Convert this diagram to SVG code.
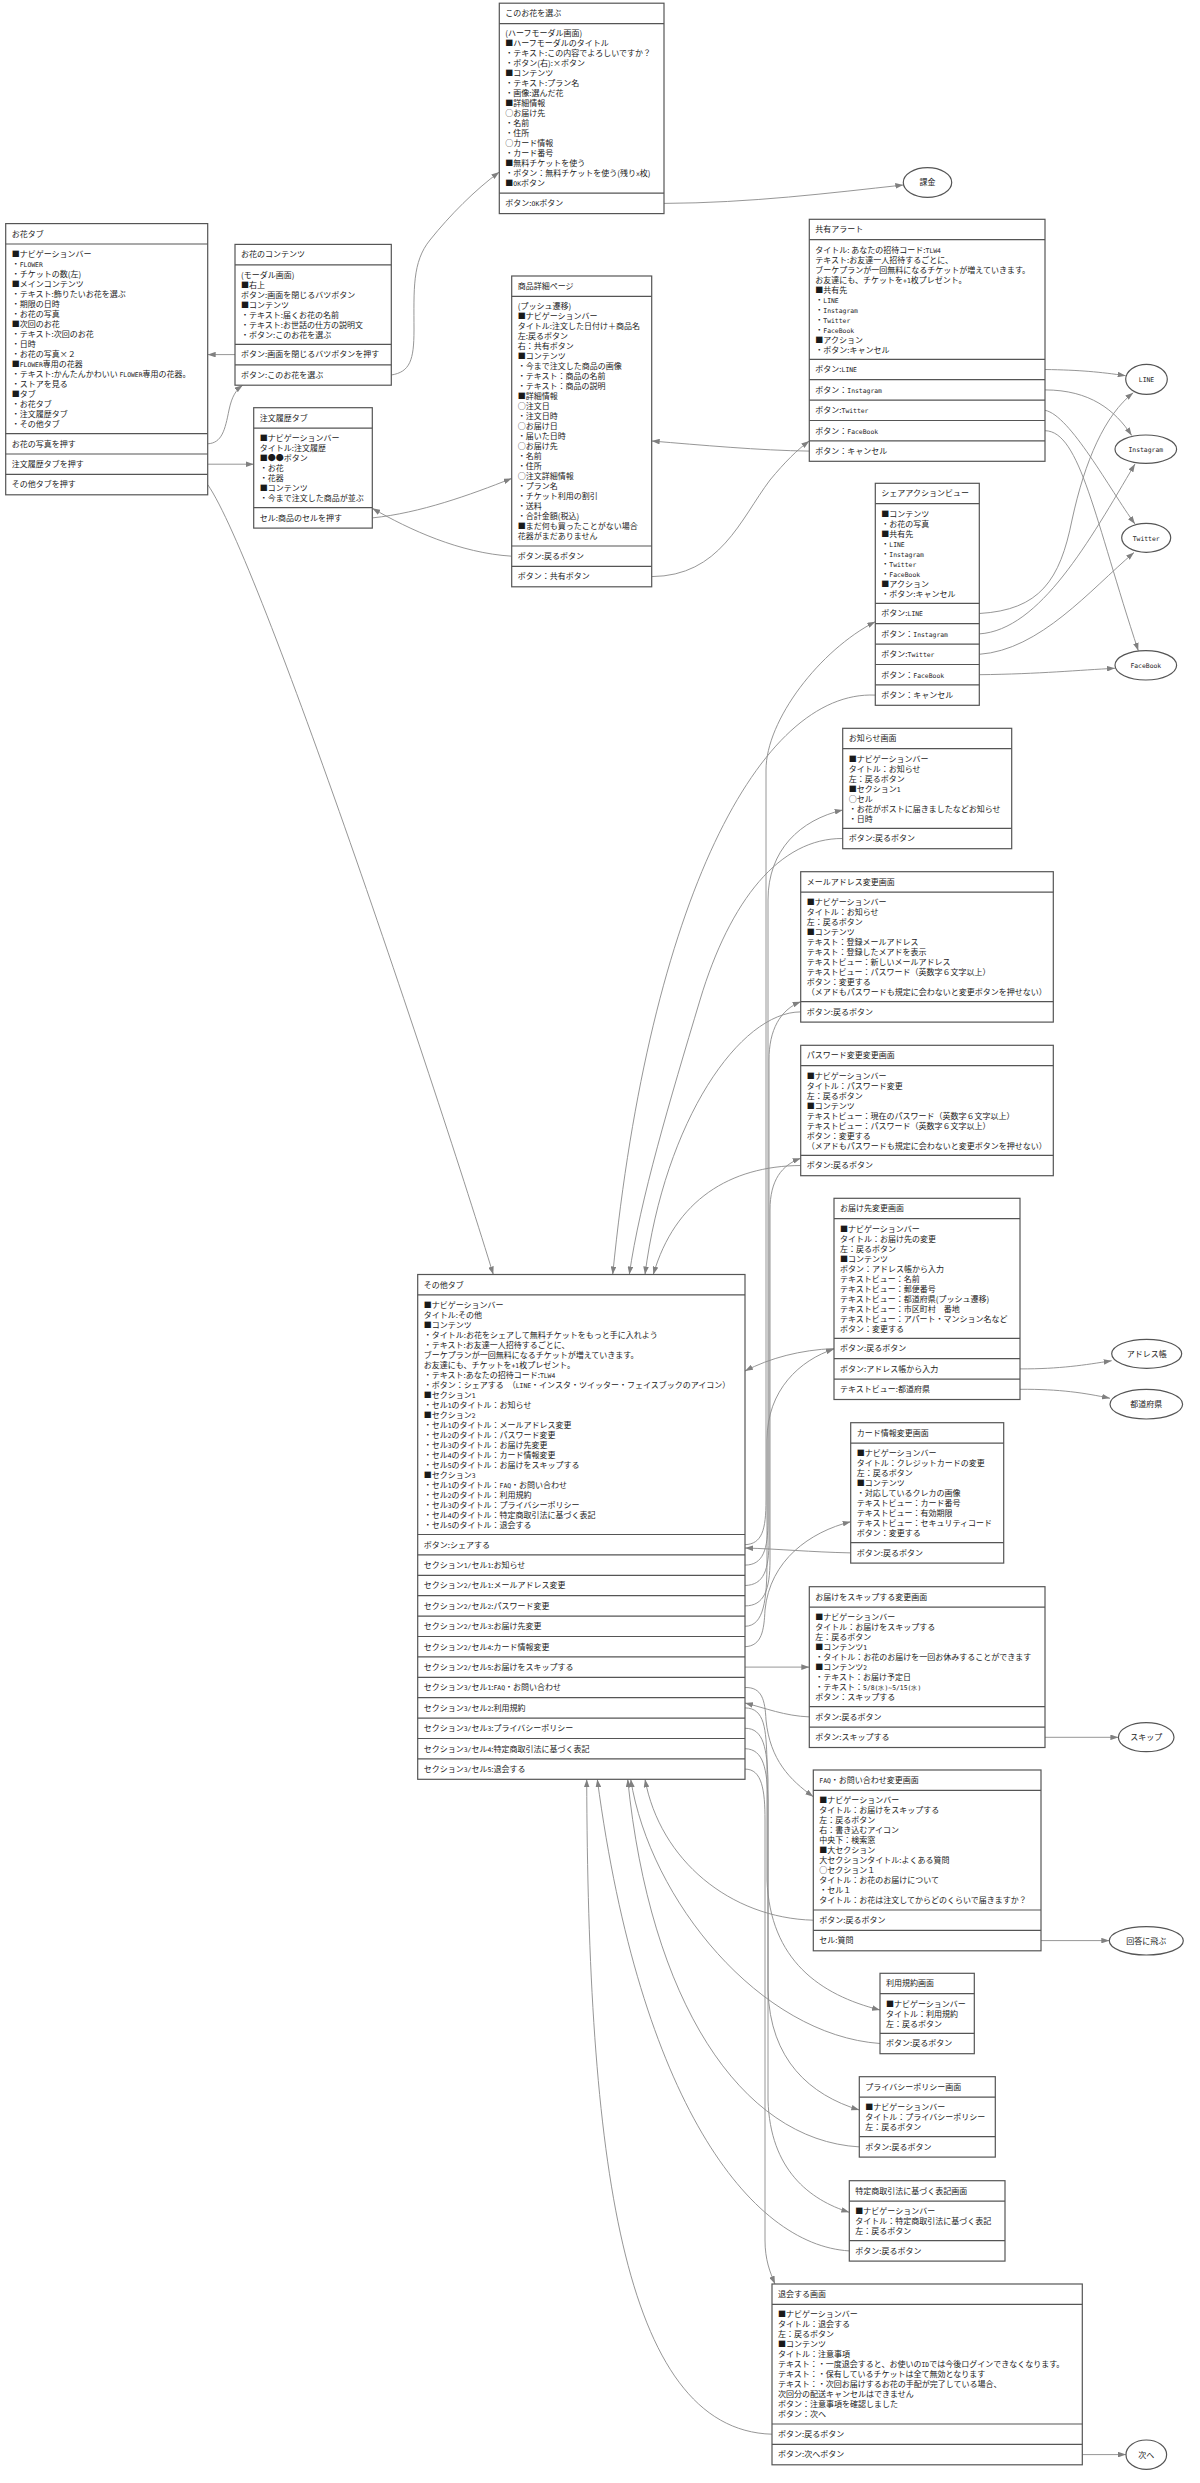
<svg xmlns="http://www.w3.org/2000/svg" width="1200" height="2483" viewBox="0 0 1200 2483">
<style>
text{font-family:"Noto Sans CJK JP","Noto Sans",sans-serif;font-size:8px;fill:#1a1a1a;transform:translateY(2.9px)}
.l{font-family:"DejaVu Sans Mono",monospace;font-size:6.4px}
.box{fill:#fff;stroke:#555;stroke-width:1.2}
.sep{fill:none;stroke:#555;stroke-width:1.2}
.e{fill:none;stroke:#8a8a8a;stroke-width:0.9;marker-end:url(#arr)}
.el{fill:#fff;stroke:#555;stroke-width:1.2}
.c{text-anchor:middle}
</style>
<defs>
<marker id="arr" viewBox="0 0 10 7" refX="10" refY="3.5" markerWidth="8" markerHeight="5.6" markerUnits="userSpaceOnUse" orient="auto"><path d="M0,0 L10,3.5 L0,7 z" fill="#808080"/></marker>
</defs>
<rect width="1200" height="2483" fill="#fff"/>
<g id="connectors">
<path class="e" d="M235,354.6 L207.7,354.6"/>
<path class="e" d="M207.7,443.8 C222,443 225,430 229,410 C232,396 236,390 242.7,385.2"/>
<path class="e" d="M207.7,464.2 L253.7,464.2"/>
<path class="e" d="M207.7,484.6 C260,560 440,1100 493.3,1274.5"/>
<path class="e" d="M391.3,375 C410,372 414,360 414,330 C414,290 412,262 430,240 C450,215 475,190 499.3,172"/>
<path class="e" d="M664,203.4 C750,203 830,193 903.3,185"/>
<path class="e" d="M372.3,517.9 C420,513 470,495 511.7,478.4"/>
<path class="e" d="M511.7,556.2 C460,553 410,530 372.3,508.3"/>
<path class="e" d="M651.7,576.6 C720,576 740,520 770,480 C785,462 797,450 809.3,440.9"/>
<path class="e" d="M809.3,451.1 C760,450.5 700,445 651.7,441"/>
<path class="e" d="M1045,369.5 C1080,370 1100,372 1125.7,375.7"/>
<path class="e" d="M1045,389.9 C1090,390 1115,410 1131.7,435.5"/>
<path class="e" d="M1045,410.3 C1070,415 1110,490 1135,524"/>
<path class="e" d="M1045,430.7 C1080,431 1095,520 1138.3,650.7"/>
<path class="e" d="M979.3,613.5 C1040,610 1060,580 1072,520 C1085,460 1105,415 1133.3,392.7"/>
<path class="e" d="M979.3,633.9 C1040,630 1090,540 1135,464"/>
<path class="e" d="M979.3,654.3 C1040,650 1090,590 1134,552.5"/>
<path class="e" d="M979.3,674.7 C1040,674 1080,670 1115,668.3"/>
<path class="e" d="M875.3,695.1 C760,690 650,900 612.7,1274.5"/>
<path class="e" d="M745,1544.7 C762,1544 766,1530 766,1500 L766,770 C766,720 820,650 875.3,621.7"/>
<path class="e" d="M842.7,838.5 C780,838 730,900 700,1000 C670,1100 640,1200 629.3,1274.5"/>
<path class="e" d="M745,1565.1 C763,1565 768,1550 768,1520 L768,900 C768,850 800,820 842.7,810"/>
<path class="e" d="M800.7,1011.9 C740,1012 665,1120 645,1274.5"/>
<path class="e" d="M745,1585.5 C764,1585 769,1570 769,1540 L769,1060 C769,1030 780,1010 800.7,1001.7"/>
<path class="e" d="M800.7,1165.5 C730,1166 675,1200 653.3,1274.5"/>
<path class="e" d="M745,1605.9 C764,1606 770,1590 770,1560 L770,1210 C770,1180 782,1165 800.7,1158.3"/>
<path class="e" d="M745,1626.3 C764,1626 767,1600 767,1560 L767,1440 C767,1390 800,1360 834,1349"/>
<path class="e" d="M834,1348.5 C800,1350 770,1358 745,1371"/>
<path class="e" d="M745,1646.7 C762,1646 764,1630 765,1610 C770,1560 810,1532 850.7,1521.7"/>
<path class="e" d="M850.7,1552.9 C810,1552 780,1549 745,1548"/>
<path class="e" d="M745,1667.1 L809.3,1667.1"/>
<path class="e" d="M809.3,1716.9 C785,1716 765,1708 745,1703"/>
<path class="e" d="M1045,1737.3 L1118.4,1737.3"/>
<path class="e" d="M745,1687.5 C762,1687 765,1700 766,1720 C770,1760 790,1780 813.3,1796.7"/>
<path class="e" d="M813.3,1920.2 C730,1918 660,1860 645,1779.3"/>
<path class="e" d="M1041,1940.6 L1109.3,1940.6"/>
<path class="e" d="M745,1707.9 C765,1708 766,1730 767,1760 L767,1880 C770,1960 820,1995 880,2010"/>
<path class="e" d="M880,2043.5 C760,2035 650,1900 630.7,1779.3"/>
<path class="e" d="M745,1728.3 C764,1728 767,1750 768,1780 L768,1990 C770,2060 810,2095 859.3,2110"/>
<path class="e" d="M859.3,2146.9 C740,2140 650,2000 627.7,1779.3"/>
<path class="e" d="M745,1748.7 C764,1749 767,1770 768,1800 L768,2100 C770,2170 810,2200 849.3,2212.3"/>
<path class="e" d="M849.3,2250.9 C750,2245 640,2100 597.3,1779.3"/>
<path class="e" d="M745,1769.1 C762,1769 765,1790 765,1820 L765,2240 C765,2260 770,2272 775,2284"/>
<path class="e" d="M772,2434.2 C620,2430 588,2150 586.7,1779.3"/>
<path class="e" d="M1082.3,2454.6 L1126,2454.6"/>
<path class="e" d="M1020,1368.9 C1060,1369 1085,1365 1111.7,1360.7"/>
<path class="e" d="M1020,1389.3 C1060,1389 1085,1393 1110,1398.3"/>
</g>

<g id="n_ohana_tab">
<rect class="box" x="5.7" y="223.6" width="202" height="271.2"/>
<path class="sep" d="M5.7,244H207.7M5.7,433.6H207.7M5.7,454H207.7M5.7,474.4H207.7"/>
<text x="11.7" y="233.8">お花タブ</text>
<text x="11.7" y="254">■ナビゲーションバー</text>
<text x="11.7" y="264">・<tspan class="l">FLOWER</tspan></text>
<text x="11.7" y="274">・チケットの数(左)</text>
<text x="11.7" y="284">■メインコンテンツ</text>
<text x="11.7" y="294">・テキスト:飾りたいお花を選ぶ</text>
<text x="11.7" y="304">・期限の日時</text>
<text x="11.7" y="314">・お花の写真</text>
<text x="11.7" y="324">■次回のお花</text>
<text x="11.7" y="334">・テキスト:次回のお花</text>
<text x="11.7" y="344">・日時</text>
<text x="11.7" y="354">・お花の写真×２</text>
<text x="11.7" y="364">■<tspan class="l">FLOWER</tspan>専用の花器</text>
<text x="11.7" y="374">・テキスト:かんたんかわいい <tspan class="l">FLOWER</tspan>専用の花器。</text>
<text x="11.7" y="384">・ストアを見る</text>
<text x="11.7" y="394">■タブ</text>
<text x="11.7" y="404">・お花タブ</text>
<text x="11.7" y="414">・注文履歴タブ</text>
<text x="11.7" y="424">・その他タブ</text>
<text x="11.7" y="443.8">お花の写真を押す</text>
<text x="11.7" y="464.2">注文履歴タブを押す</text>
<text x="11.7" y="484.6">その他タブを押す</text>
</g>

<g id="n_ohana_contents">
<rect class="box" x="235" y="244.4" width="156.3" height="140.8"/>
<path class="sep" d="M235,264.8H391.3M235,344.4H391.3M235,364.8H391.3"/>
<text x="241" y="254.6">お花のコンテンツ</text>
<text x="241" y="274.8">(モーダル画面)</text>
<text x="241" y="284.8">■右上</text>
<text x="241" y="294.8">ボタン:画面を閉じるバツボタン</text>
<text x="241" y="304.8">■コンテンツ</text>
<text x="241" y="314.8">・テキスト:届くお花の名前</text>
<text x="241" y="324.8">・テキスト:お世話の仕方の説明文</text>
<text x="241" y="334.8">・ボタン:このお花を選ぶ</text>
<text x="241" y="354.6">ボタン:画面を閉じるバツボタンを押す</text>
<text x="241" y="375">ボタン:このお花を選ぶ</text>
</g>

<g id="n_order_tab">
<rect class="box" x="253.7" y="407.7" width="118.6" height="120.4"/>
<path class="sep" d="M253.7,428.1H372.3M253.7,507.7H372.3"/>
<text x="259.7" y="417.9">注文履歴タブ</text>
<text x="259.7" y="438.1">■ナビゲーションバー</text>
<text x="259.7" y="448.1">タイトル:注文履歴</text>
<text x="259.7" y="458.1">■●●ボタン</text>
<text x="259.7" y="468.1">・お花</text>
<text x="259.7" y="478.1">・花器</text>
<text x="259.7" y="488.1">■コンテンツ</text>
<text x="259.7" y="498.1">・今まで注文した商品が並ぶ</text>
<text x="259.7" y="517.9">セル:商品のセルを押す</text>
</g>

<g id="n_choose">
<rect class="box" x="499.3" y="3.2" width="164.7" height="210.4"/>
<path class="sep" d="M499.3,23.6H664M499.3,193.2H664"/>
<text x="505.3" y="13.4">このお花を選ぶ</text>
<text x="505.3" y="33.6">(ハーフモーダル画面)</text>
<text x="505.3" y="43.6">■ハーフモーダルのタイトル</text>
<text x="505.3" y="53.6">・テキスト:この内容でよろしいですか？</text>
<text x="505.3" y="63.6">・ボタン(右):×ボタン</text>
<text x="505.3" y="73.6">■コンテンツ</text>
<text x="505.3" y="83.6">・テキスト:プラン名</text>
<text x="505.3" y="93.6">・画像:選んだ花</text>
<text x="505.3" y="103.6">■詳細情報</text>
<text x="505.3" y="113.6">○お届け先</text>
<text x="505.3" y="123.6">・名前</text>
<text x="505.3" y="133.6">・住所</text>
<text x="505.3" y="143.6">○カード情報</text>
<text x="505.3" y="153.6">・カード番号</text>
<text x="505.3" y="163.6">■無料チケットを使う</text>
<text x="505.3" y="173.6">・ボタン：無料チケットを使う(残り<tspan class="l">x</tspan>枚)</text>
<text x="505.3" y="183.6">■<tspan class="l">OK</tspan>ボタン</text>
<text x="505.3" y="203.4">ボタン:<tspan class="l">OK</tspan>ボタン</text>
</g>

<g id="n_detail">
<rect class="box" x="511.7" y="276" width="140" height="310.8"/>
<path class="sep" d="M511.7,296.4H651.7M511.7,546H651.7M511.7,566.4H651.7"/>
<text x="517.7" y="286.2">商品詳細ページ</text>
<text x="517.7" y="306.4">(プッシュ遷移)</text>
<text x="517.7" y="316.4">■ナビゲーションバー</text>
<text x="517.7" y="326.4">タイトル:注文した日付け＋商品名</text>
<text x="517.7" y="336.4">左:戻るボタン</text>
<text x="517.7" y="346.4">右：共有ボタン</text>
<text x="517.7" y="356.4">■コンテンツ</text>
<text x="517.7" y="366.4">・今まで注文した商品の画像</text>
<text x="517.7" y="376.4">・テキスト：商品の名前</text>
<text x="517.7" y="386.4">・テキスト：商品の説明</text>
<text x="517.7" y="396.4">■詳細情報</text>
<text x="517.7" y="406.4">○注文日</text>
<text x="517.7" y="416.4">・注文日時</text>
<text x="517.7" y="426.4">○お届け日</text>
<text x="517.7" y="436.4">・届いた日時</text>
<text x="517.7" y="446.4">○お届け先</text>
<text x="517.7" y="456.4">・名前</text>
<text x="517.7" y="466.4">・住所</text>
<text x="517.7" y="476.4">○注文詳細情報</text>
<text x="517.7" y="486.4">・プラン名</text>
<text x="517.7" y="496.4">・チケット利用の割引</text>
<text x="517.7" y="506.4">・送料</text>
<text x="517.7" y="516.4">・合計金額(税込)</text>
<text x="517.7" y="526.4">■まだ何も買ったことがない場合</text>
<text x="517.7" y="536.4">花器がまだありません</text>
<text x="517.7" y="556.2">ボタン:戻るボタン</text>
<text x="517.7" y="576.6">ボタン：共有ボタン</text>
</g>

<g id="n_share_alert">
<rect class="box" x="809.3" y="219.3" width="235.7" height="242"/>
<path class="sep" d="M809.3,239.7H1045M809.3,359.3H1045M809.3,379.7H1045M809.3,400.1H1045M809.3,420.5H1045M809.3,440.9H1045"/>
<text x="815.3" y="229.5">共有アラート</text>
<text x="815.3" y="249.7">タイトル: あなたの招待コード:<tspan class="l">TLW4</tspan></text>
<text x="815.3" y="259.7">テキスト:お友達一人招待するごとに、</text>
<text x="815.3" y="269.7">ブーケプランが一回無料になるチケットが増えていきます。</text>
<text x="815.3" y="279.7">お友達にも、チケットを<tspan class="l">+1</tspan>枚プレゼント。</text>
<text x="815.3" y="289.7">■共有先</text>
<text x="815.3" y="299.7">・<tspan class="l">LINE</tspan></text>
<text x="815.3" y="309.7">・<tspan class="l">Instagram</tspan></text>
<text x="815.3" y="319.7">・<tspan class="l">Twitter</tspan></text>
<text x="815.3" y="329.7">・<tspan class="l">FaceBook</tspan></text>
<text x="815.3" y="339.7">■アクション</text>
<text x="815.3" y="349.7">・ボタン:キャンセル</text>
<text x="815.3" y="369.5">ボタン:<tspan class="l">LINE</tspan></text>
<text x="815.3" y="389.9">ボタン：<tspan class="l">Instagram</tspan></text>
<text x="815.3" y="410.3">ボタン:<tspan class="l">Twitter</tspan></text>
<text x="815.3" y="430.7">ボタン：<tspan class="l">FaceBook</tspan></text>
<text x="815.3" y="451.1">ボタン：キャンセル</text>
</g>

<g id="n_share_view">
<rect class="box" x="875.3" y="483.3" width="104" height="222"/>
<path class="sep" d="M875.3,503.7H979.3M875.3,603.3H979.3M875.3,623.7H979.3M875.3,644.1H979.3M875.3,664.5H979.3M875.3,684.9H979.3"/>
<text x="881.3" y="493.5">シェアアクションビュー</text>
<text x="881.3" y="513.7">■コンテンツ</text>
<text x="881.3" y="523.7">・お花の写真</text>
<text x="881.3" y="533.7">■共有先</text>
<text x="881.3" y="543.7">・<tspan class="l">LINE</tspan></text>
<text x="881.3" y="553.7">・<tspan class="l">Instagram</tspan></text>
<text x="881.3" y="563.7">・<tspan class="l">Twitter</tspan></text>
<text x="881.3" y="573.7">・<tspan class="l">FaceBook</tspan></text>
<text x="881.3" y="583.7">■アクション</text>
<text x="881.3" y="593.7">・ボタン:キャンセル</text>
<text x="881.3" y="613.5">ボタン:<tspan class="l">LINE</tspan></text>
<text x="881.3" y="633.9">ボタン：<tspan class="l">Instagram</tspan></text>
<text x="881.3" y="654.3">ボタン:<tspan class="l">Twitter</tspan></text>
<text x="881.3" y="674.7">ボタン：<tspan class="l">FaceBook</tspan></text>
<text x="881.3" y="695.1">ボタン：キャンセル</text>
</g>

<g id="n_news">
<rect class="box" x="842.7" y="728.3" width="169" height="120.4"/>
<path class="sep" d="M842.7,748.7H1011.7M842.7,828.3H1011.7"/>
<text x="848.7" y="738.5">お知らせ画面</text>
<text x="848.7" y="758.7">■ナビゲーションバー</text>
<text x="848.7" y="768.7">タイトル：お知らせ</text>
<text x="848.7" y="778.7">左：戻るボタン</text>
<text x="848.7" y="788.7">■セクション<tspan class="l">1</tspan></text>
<text x="848.7" y="798.7">○セル</text>
<text x="848.7" y="808.7">・お花がポストに届きましたなどお知らせ</text>
<text x="848.7" y="818.7">・日時</text>
<text x="848.7" y="838.5">ボタン:戻るボタン</text>
</g>

<g id="n_mail">
<rect class="box" x="800.7" y="871.7" width="252.6" height="150.4"/>
<path class="sep" d="M800.7,892.1H1053.3M800.7,1001.7H1053.3"/>
<text x="806.7" y="881.9">メールアドレス変更画面</text>
<text x="806.7" y="902.1">■ナビゲーションバー</text>
<text x="806.7" y="912.1">タイトル：お知らせ</text>
<text x="806.7" y="922.1">左：戻るボタン</text>
<text x="806.7" y="932.1">■コンテンツ</text>
<text x="806.7" y="942.1">テキスト：登録メールアドレス</text>
<text x="806.7" y="952.1">テキスト：登録したメアドを表示</text>
<text x="806.7" y="962.1">テキストビュー：新しいメールアドレス</text>
<text x="806.7" y="972.1">テキストビュー：パスワード（英数字６文字以上）</text>
<text x="806.7" y="982.1">ボタン：変更する</text>
<text x="806.7" y="992.1">（メアドもパスワードも規定に会わないと変更ボタンを押せない）</text>
<text x="806.7" y="1011.9">ボタン:戻るボタン</text>
</g>

<g id="n_password">
<rect class="box" x="800.7" y="1045.3" width="252.6" height="130.4"/>
<path class="sep" d="M800.7,1065.7H1053.3M800.7,1155.3H1053.3"/>
<text x="806.7" y="1055.5">パスワード変更変更画面</text>
<text x="806.7" y="1075.7">■ナビゲーションバー</text>
<text x="806.7" y="1085.7">タイトル：パスワード変更</text>
<text x="806.7" y="1095.7">左：戻るボタン</text>
<text x="806.7" y="1105.7">■コンテンツ</text>
<text x="806.7" y="1115.7">テキストビュー：現在のパスワード（英数字６文字以上）</text>
<text x="806.7" y="1125.7">テキストビュー：パスワード（英数字６文字以上）</text>
<text x="806.7" y="1135.7">ボタン：変更する</text>
<text x="806.7" y="1145.7">（メアドもパスワードも規定に会わないと変更ボタンを押せない）</text>
<text x="806.7" y="1165.5">ボタン:戻るボタン</text>
</g>

<g id="n_address">
<rect class="box" x="834" y="1198.3" width="186" height="201.2"/>
<path class="sep" d="M834,1218.7H1020M834,1338.3H1020M834,1358.7H1020M834,1379.1H1020"/>
<text x="840" y="1208.5">お届け先変更画面</text>
<text x="840" y="1228.7">■ナビゲーションバー</text>
<text x="840" y="1238.7">タイトル：お届け先の変更</text>
<text x="840" y="1248.7">左：戻るボタン</text>
<text x="840" y="1258.7">■コンテンツ</text>
<text x="840" y="1268.7">ボタン：アドレス帳から入力</text>
<text x="840" y="1278.7">テキストビュー：名前</text>
<text x="840" y="1288.7">テキストビュー：郵便番号</text>
<text x="840" y="1298.7">テキストビュー：都道府県(プッシュ遷移)</text>
<text x="840" y="1308.7">テキストビュー：市区町村　番地</text>
<text x="840" y="1318.7">テキストビュー：アパート・マンション名など</text>
<text x="840" y="1328.7">ボタン：変更する</text>
<text x="840" y="1348.5">ボタン:戻るボタン</text>
<text x="840" y="1368.9">ボタン:アドレス帳から入力</text>
<text x="840" y="1389.3">テキストビュー:都道府県</text>
</g>

<g id="n_card">
<rect class="box" x="850.7" y="1422.7" width="153" height="140.4"/>
<path class="sep" d="M850.7,1443.1H1003.7M850.7,1542.7H1003.7"/>
<text x="856.7" y="1432.9">カード情報変更画面</text>
<text x="856.7" y="1453.1">■ナビゲーションバー</text>
<text x="856.7" y="1463.1">タイトル：クレジットカードの変更</text>
<text x="856.7" y="1473.1">左：戻るボタン</text>
<text x="856.7" y="1483.1">■コンテンツ</text>
<text x="856.7" y="1493.1">・対応しているクレカの画像</text>
<text x="856.7" y="1503.1">テキストビュー：カード番号</text>
<text x="856.7" y="1513.1">テキストビュー：有効期限</text>
<text x="856.7" y="1523.1">テキストビュー：セキュリティコード</text>
<text x="856.7" y="1533.1">ボタン：変更する</text>
<text x="856.7" y="1552.9">ボタン:戻るボタン</text>
</g>

<g id="n_skip">
<rect class="box" x="809.3" y="1586.7" width="235.7" height="160.8"/>
<path class="sep" d="M809.3,1607.1H1045M809.3,1706.7H1045M809.3,1727.1H1045"/>
<text x="815.3" y="1596.9">お届けをスキップする変更画面</text>
<text x="815.3" y="1617.1">■ナビゲーションバー</text>
<text x="815.3" y="1627.1">タイトル：お届けをスキップする</text>
<text x="815.3" y="1637.1">左：戻るボタン</text>
<text x="815.3" y="1647.1">■コンテンツ<tspan class="l">1</tspan></text>
<text x="815.3" y="1657.1">・タイトル：お花のお届けを一回お休みすることができます</text>
<text x="815.3" y="1667.1">■コンテンツ<tspan class="l">2</tspan></text>
<text x="815.3" y="1677.1">・テキスト：お届け予定日</text>
<text x="815.3" y="1687.1">・テキスト：<tspan class="l">5/8(水)~5/15(水)</tspan></text>
<text x="815.3" y="1697.1">ボタン：スキップする</text>
<text x="815.3" y="1716.9">ボタン:戻るボタン</text>
<text x="815.3" y="1737.3">ボタン:スキップする</text>
</g>

<g id="n_faq">
<rect class="box" x="813.3" y="1770" width="227.7" height="180.8"/>
<path class="sep" d="M813.3,1790.4H1041M813.3,1910H1041M813.3,1930.4H1041"/>
<text x="819.3" y="1780.2"><tspan class="l">FAQ</tspan>・お問い合わせ変更画面</text>
<text x="819.3" y="1800.4">■ナビゲーションバー</text>
<text x="819.3" y="1810.4">タイトル：お届けをスキップする</text>
<text x="819.3" y="1820.4">左：戻るボタン</text>
<text x="819.3" y="1830.4">右：書き込むアイコン</text>
<text x="819.3" y="1840.4">中央下：検索窓</text>
<text x="819.3" y="1850.4">■大セクション</text>
<text x="819.3" y="1860.4">大セクションタイトル:よくある質問</text>
<text x="819.3" y="1870.4">○セクション１</text>
<text x="819.3" y="1880.4">タイトル：お花のお届けについて</text>
<text x="819.3" y="1890.4">・セル１</text>
<text x="819.3" y="1900.4">タイトル：お花は注文してからどのくらいで届きますか？</text>
<text x="819.3" y="1920.2">ボタン:戻るボタン</text>
<text x="819.3" y="1940.6">セル:質問</text>
</g>

<g id="n_terms">
<rect class="box" x="880" y="1973.3" width="94.3" height="80.4"/>
<path class="sep" d="M880,1993.7H974.3M880,2033.3H974.3"/>
<text x="886" y="1983.5">利用規約画面</text>
<text x="886" y="2003.7">■ナビゲーションバー</text>
<text x="886" y="2013.7">タイトル：利用規約</text>
<text x="886" y="2023.7">左：戻るボタン</text>
<text x="886" y="2043.5">ボタン:戻るボタン</text>
</g>

<g id="n_privacy">
<rect class="box" x="859.3" y="2076.7" width="136" height="80.4"/>
<path class="sep" d="M859.3,2097.1H995.3M859.3,2136.7H995.3"/>
<text x="865.3" y="2086.9">プライバシーポリシー画面</text>
<text x="865.3" y="2107.1">■ナビゲーションバー</text>
<text x="865.3" y="2117.1">タイトル：プライバシーポリシー</text>
<text x="865.3" y="2127.1">左：戻るボタン</text>
<text x="865.3" y="2146.9">ボタン:戻るボタン</text>
</g>

<g id="n_tokutei">
<rect class="box" x="849.3" y="2180.7" width="155.7" height="80.4"/>
<path class="sep" d="M849.3,2201.1H1005M849.3,2240.7H1005"/>
<text x="855.3" y="2190.9">特定商取引法に基づく表記画面</text>
<text x="855.3" y="2211.1">■ナビゲーションバー</text>
<text x="855.3" y="2221.1">タイトル：特定商取引法に基づく表記</text>
<text x="855.3" y="2231.1">左：戻るボタン</text>
<text x="855.3" y="2250.9">ボタン:戻るボタン</text>
</g>

<g id="n_withdraw">
<rect class="box" x="772" y="2284" width="310.3" height="180.8"/>
<path class="sep" d="M772,2304.4H1082.3M772,2424H1082.3M772,2444.4H1082.3"/>
<text x="778" y="2294.2">退会する画面</text>
<text x="778" y="2314.4">■ナビゲーションバー</text>
<text x="778" y="2324.4">タイトル：退会する</text>
<text x="778" y="2334.4">左：戻るボタン</text>
<text x="778" y="2344.4">■コンテンツ</text>
<text x="778" y="2354.4">タイトル：注意事項</text>
<text x="778" y="2364.4">テキスト：・一度退会すると、お使いの<tspan class="l">ID</tspan>では今後ログインできなくなります。</text>
<text x="778" y="2374.4">テキスト：・保有しているチケットは全て無効となります</text>
<text x="778" y="2384.4">テキスト：・次回お届けするお花の手配が完了している場合、</text>
<text x="778" y="2394.4">次回分の配送キャンセルはできません</text>
<text x="778" y="2404.4">ボタン：注意事項を確認しました</text>
<text x="778" y="2414.4">ボタン：次へ</text>
<text x="778" y="2434.2">ボタン:戻るボタン</text>
<text x="778" y="2454.6">ボタン:次へボタン</text>
</g>

<g id="n_other_tab">
<rect class="box" x="417.7" y="1274.5" width="327.3" height="504.8"/>
<path class="sep" d="M417.7,1294.9H745M417.7,1534.5H745M417.7,1554.9H745M417.7,1575.3H745M417.7,1595.7H745M417.7,1616.1H745M417.7,1636.5H745M417.7,1656.9H745M417.7,1677.3H745M417.7,1697.7H745M417.7,1718.1H745M417.7,1738.5H745M417.7,1758.9H745"/>
<text x="423.7" y="1284.7">その他タブ</text>
<text x="423.7" y="1304.9">■ナビゲーションバー</text>
<text x="423.7" y="1314.9">タイトル:その他</text>
<text x="423.7" y="1324.9">■コンテンツ</text>
<text x="423.7" y="1334.9">・タイトル:お花をシェアして無料チケットをもっと手に入れよう</text>
<text x="423.7" y="1344.9">・テキスト:お友達一人招待するごとに、</text>
<text x="423.7" y="1354.9">ブーケプランが一回無料になるチケットが増えていきます。</text>
<text x="423.7" y="1364.9">お友達にも、チケットを<tspan class="l">+1</tspan>枚プレゼント。</text>
<text x="423.7" y="1374.9">・テキスト:あなたの招待コード:<tspan class="l">TLW4</tspan></text>
<text x="423.7" y="1384.9">・ボタン：シェアする　（<tspan class="l">LINE</tspan>・インスタ・ツイッター・フェイスブックのアイコン）</text>
<text x="423.7" y="1394.9">■セクション<tspan class="l">1</tspan></text>
<text x="423.7" y="1404.9">・セル<tspan class="l">1</tspan>のタイトル：お知らせ</text>
<text x="423.7" y="1414.9">■セクション<tspan class="l">2</tspan></text>
<text x="423.7" y="1424.9">・セル<tspan class="l">1</tspan>のタイトル：メールアドレス変更</text>
<text x="423.7" y="1434.9">・セル<tspan class="l">2</tspan>のタイトル：パスワード変更</text>
<text x="423.7" y="1444.9">・セル<tspan class="l">3</tspan>のタイトル：お届け先変更</text>
<text x="423.7" y="1454.9">・セル<tspan class="l">4</tspan>のタイトル：カード情報変更</text>
<text x="423.7" y="1464.9">・セル<tspan class="l">5</tspan>のタイトル：お届けをスキップする</text>
<text x="423.7" y="1474.9">■セクション<tspan class="l">3</tspan></text>
<text x="423.7" y="1484.9">・セル<tspan class="l">1</tspan>のタイトル：<tspan class="l">FAQ</tspan>・お問い合わせ</text>
<text x="423.7" y="1494.9">・セル<tspan class="l">2</tspan>のタイトル：利用規約</text>
<text x="423.7" y="1504.9">・セル<tspan class="l">3</tspan>のタイトル：プライバシーポリシー</text>
<text x="423.7" y="1514.9">・セル<tspan class="l">4</tspan>のタイトル：特定商取引法に基づく表記</text>
<text x="423.7" y="1524.9">・セル<tspan class="l">5</tspan>のタイトル：退会する</text>
<text x="423.7" y="1544.7">ボタン:シェアする</text>
<text x="423.7" y="1565.1">セクション<tspan class="l">1/</tspan>セル<tspan class="l">1</tspan>:お知らせ</text>
<text x="423.7" y="1585.5">セクション<tspan class="l">2/</tspan>セル<tspan class="l">1</tspan>:メールアドレス変更</text>
<text x="423.7" y="1605.9">セクション<tspan class="l">2/</tspan>セル<tspan class="l">2</tspan>:パスワード変更</text>
<text x="423.7" y="1626.3">セクション<tspan class="l">2/</tspan>セル<tspan class="l">3</tspan>:お届け先変更</text>
<text x="423.7" y="1646.7">セクション<tspan class="l">2/</tspan>セル<tspan class="l">4</tspan>:カード情報変更</text>
<text x="423.7" y="1667.1">セクション<tspan class="l">2/</tspan>セル<tspan class="l">5</tspan>:お届けをスキップする</text>
<text x="423.7" y="1687.5">セクション<tspan class="l">3/</tspan>セル<tspan class="l">1</tspan>:<tspan class="l">FAQ</tspan>・お問い合わせ</text>
<text x="423.7" y="1707.9">セクション<tspan class="l">3/</tspan>セル<tspan class="l">2</tspan>:利用規約</text>
<text x="423.7" y="1728.3">セクション<tspan class="l">3/</tspan>セル<tspan class="l">3</tspan>:プライバシーポリシー</text>
<text x="423.7" y="1748.7">セクション<tspan class="l">3/</tspan>セル<tspan class="l">4</tspan>:特定商取引法に基づく表記</text>
<text x="423.7" y="1769.1">セクション<tspan class="l">3/</tspan>セル<tspan class="l">5</tspan>:退会する</text>
</g>

<g id="e_kakin"><ellipse class="el" cx="927.5" cy="182.5" rx="24.2" ry="14.8"/><text class="c" x="927.5" y="182.5">課金</text></g>
<g id="e_line"><ellipse class="el" cx="1146.5" cy="379.3" rx="20.8" ry="15"/><text class="c l" x="1146.5" y="379.3">LINE</text></g>
<g id="e_instagram"><ellipse class="el" cx="1145.8" cy="449.2" rx="30.8" ry="14.2"/><text class="c l" x="1145.8" y="449.2">Instagram</text></g>
<g id="e_twitter"><ellipse class="el" cx="1146.2" cy="537.8" rx="24.5" ry="14.5"/><text class="c l" x="1146.2" y="537.8">Twitter</text></g>
<g id="e_facebook"><ellipse class="el" cx="1145.8" cy="665.3" rx="30.8" ry="14.7"/><text class="c l" x="1145.8" y="665.3">FaceBook</text></g>
<g id="e_addressbook"><ellipse class="el" cx="1146.7" cy="1353.8" rx="35" ry="14.5"/><text class="c" x="1146.7" y="1353.8">アドレス帳</text></g>
<g id="e_pref"><ellipse class="el" cx="1146.3" cy="1404.2" rx="36.3" ry="14.8"/><text class="c" x="1146.3" y="1404.2">都道府県</text></g>
<g id="e_skip"><ellipse class="el" cx="1146.2" cy="1737.2" rx="27.8" ry="14.5"/><text class="c" x="1146.2" y="1737.2">スキップ</text></g>
<g id="e_answer"><ellipse class="el" cx="1146.3" cy="1940.8" rx="37" ry="14.2"/><text class="c" x="1146.3" y="1940.8">回答に飛ぶ</text></g>
<g id="e_next"><ellipse class="el" cx="1146.3" cy="2454.7" rx="20.3" ry="14.7"/><text class="c" x="1146.3" y="2454.7">次へ</text></g>
</svg>
